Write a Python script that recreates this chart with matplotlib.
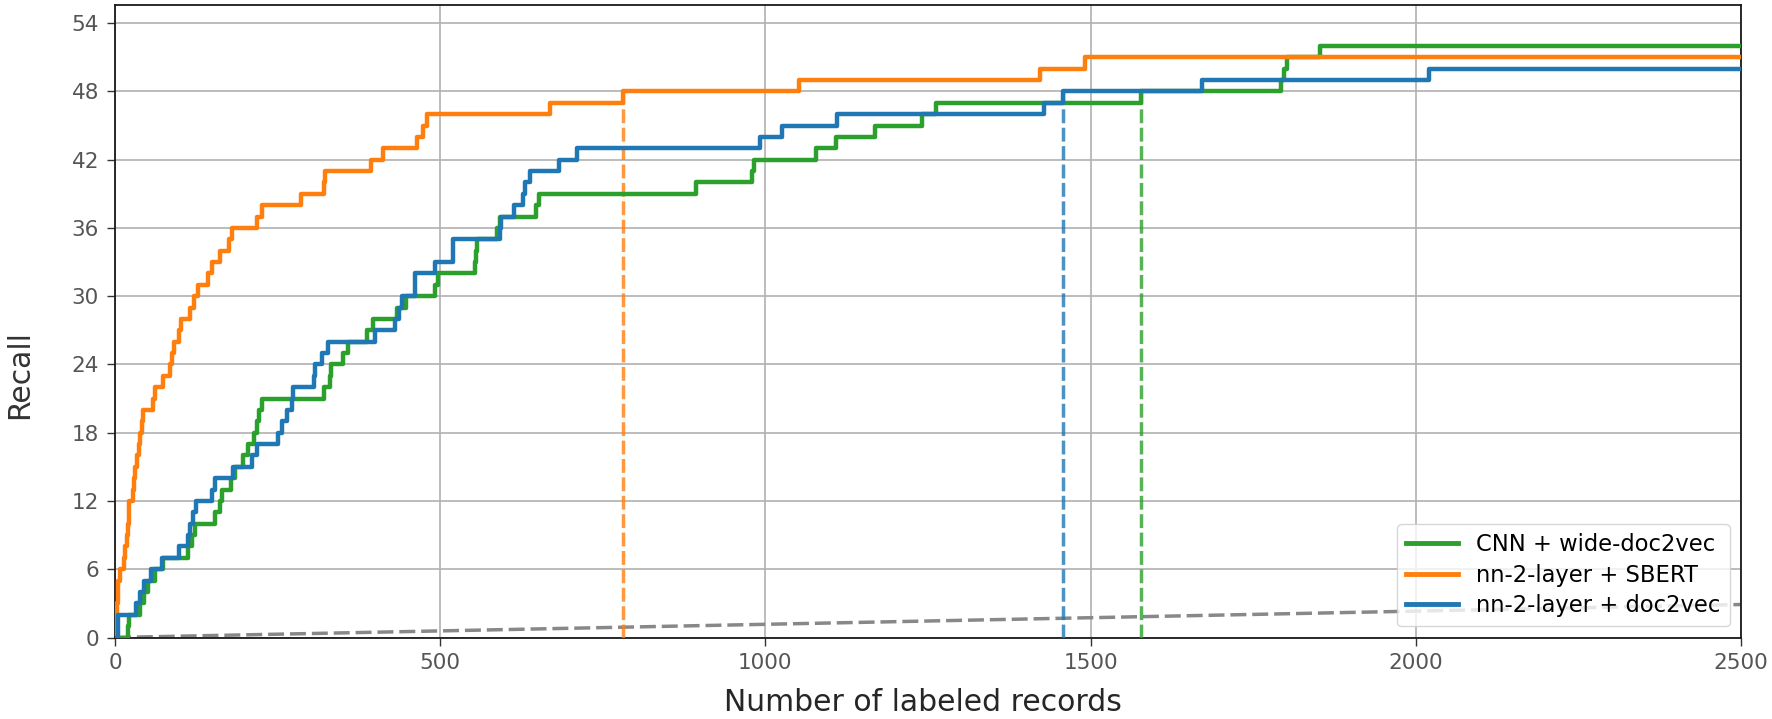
import matplotlib
matplotlib.use("Agg")
import matplotlib.pyplot as plt
import numpy as np

# ---- data ----
x_end = 2500

cnn_x = [0, 20, 21, 38, 44, 51, 62, 74, 113, 118, 123, 154, 162, 164, 179, 185, 197, 205,
         213, 218, 221, 226, 321, 331, 332, 351, 359, 387, 397, 433, 448, 492, 497, 554,
         555, 556, 588, 592, 648, 652, 893, 979, 982, 1078, 1108, 1168, 1241, 1262, 1578,
         1792, 1797, 1802, 1853]
cnn_y = list(range(0, 53))

sbert_x = [0, 1, 2, 3, 4, 5, 7, 14, 15, 18, 20, 21, 22, 27, 29, 31, 34, 37, 39, 41, 43,
           58, 61, 74, 84, 87, 90, 98, 101, 115, 122, 127, 143, 149, 161, 175, 180, 218,
           226, 286, 322, 323, 393, 412, 464, 474, 480, 669, 781, 1051, 1422, 1492]
sbert_y = list(range(0, 52))

d2v_x = [0, 4, 5, 33, 38, 44, 56, 72, 98, 112, 116, 120, 124, 149, 154, 182, 210, 218,
         251, 256, 264, 272, 274, 306, 308, 318, 328, 400, 431, 436, 441, 461, 462, 492,
         519, 520, 592, 594, 613, 628, 631, 638, 682, 710, 992, 1025, 1110, 1428, 1458,
         1672, 2020]
d2v_y = list(range(0, 51))

stop_cnn = 1578
stop_sbert = 781
stop_d2v = 1458

random_x = [0, 2500]
random_y = [0, 2.9]

labels = ["CNN + wide-doc2vec", "nn-2-layer + SBERT", "nn-2-layer + doc2vec"]
colors = ["#2ca02c", "#ff7f0e", "#1f77b4"]

xticks = [0, 500, 1000, 1500, 2000, 2500]
yticks = [0, 6, 12, 18, 24, 30, 36, 42, 48, 54]

# ---- figure ----
fig = plt.figure(figsize=(17.72, 7.19), dpi=100)
ax = fig.add_axes([115 / 1772, 1 - 637.5 / 719, 1626 / 1772, 632.5 / 719])

series = [(cnn_x, cnn_y, stop_cnn), (sbert_x, sbert_y, stop_sbert), (d2v_x, d2v_y, stop_d2v)]

# random baseline
ax.plot(random_x, random_y, color="#888888", lw=2.5, ls=(0, (4.6, 1.7)), zorder=2)

# stopping lines
for (xs, ys, stop), c in zip(series, colors):
    idx = np.searchsorted(xs, stop, side="right") - 1
    ax.vlines(stop, 0, ys[idx], colors=c, linestyles=(0, (4.0, 1.3)), lw=2.5, alpha=0.8, zorder=3)

# step curves
for (xs, ys, stop), c, lab in zip(series, colors, labels):
    ax.plot(list(xs) + [x_end], list(ys) + [ys[-1]], drawstyle="steps-post",
            color=c, lw=3.2, label=lab, zorder=4)

ax.set_xlim(0, 2500)
ax.set_ylim(0, 55.6)
ax.set_xticks(xticks)
ax.set_yticks(yticks)
ax.grid(True, color="#b0b0b0", lw=1.2)
ax.set_axisbelow(True)

for s in ax.spines.values():
    s.set_color("#1a1a1a")
    s.set_linewidth(1.3)

ax.tick_params(axis="both", which="major", length=5.5, width=1.0, pad=6,
               labelsize=15.5, labelcolor="#555555", color="#333333")

ax.set_xlabel("Number of labeled records", fontsize=21.5, color="#262626")
ax.set_ylabel("Recall", fontsize=21.5, color="#333333")
ax.xaxis.set_label_coords(0.497, -0.080)
ax.yaxis.set_label_coords(-0.0495, 0.415)

leg = ax.legend(loc="lower right", fontsize=16.3, labelspacing=0.33, handlelength=2.3,
                frameon=True, fancybox=True, framealpha=0.8, edgecolor="#cccccc")
for h in leg.get_lines():
    h.set_linewidth(3.5)

fig.savefig("out.png", dpi=100)
